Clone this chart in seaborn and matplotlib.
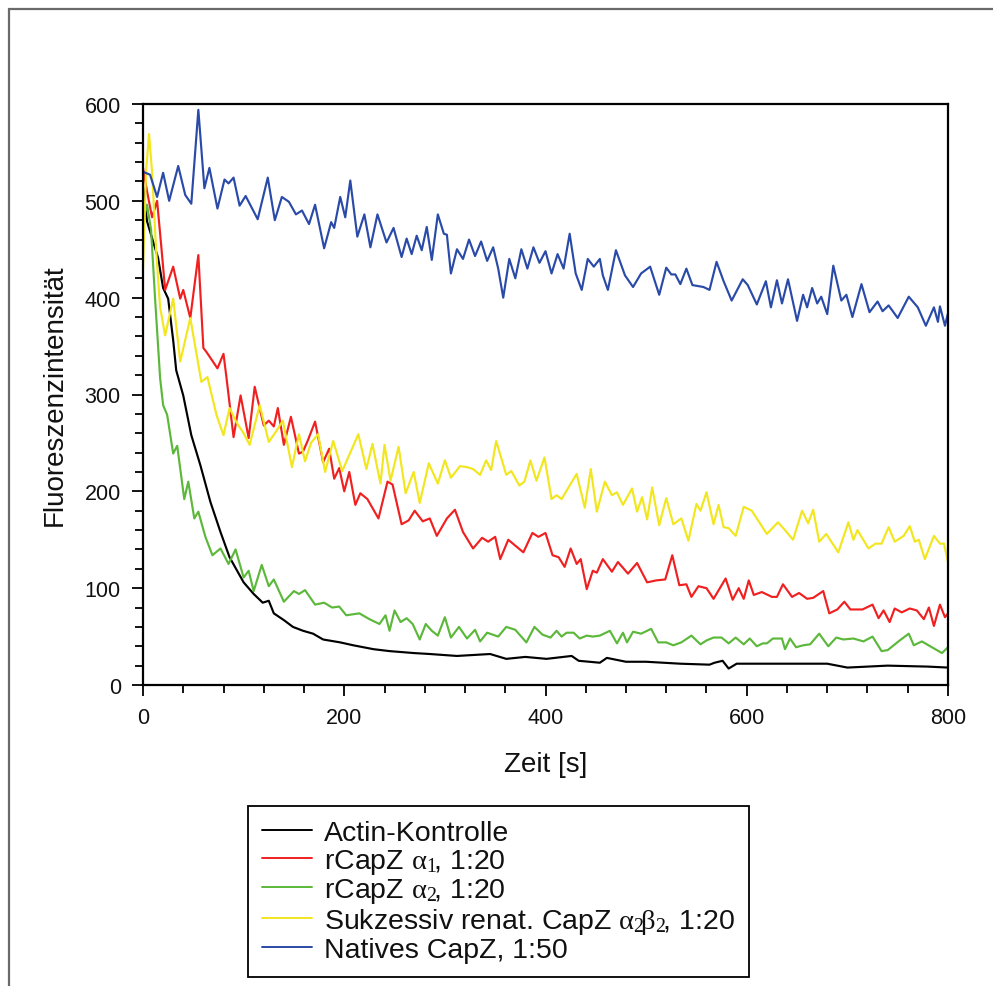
import matplotlib
matplotlib.use("Agg")
import matplotlib.pyplot as plt
from matplotlib.lines import Line2D
from matplotlib.ticker import MultipleLocator
import pandas as pd
import seaborn as sns

# ---- measured fluorescence traces (time in s, intensity in a.u.) ----
t_black = [0, 4, 10, 15, 20, 25, 30, 33, 40, 48, 57, 67, 77, 86, 100, 110, 119, 125, 130, 140,
           149, 159, 169, 179, 196, 209, 229, 245, 269, 285, 312, 345, 361, 380, 401, 426, 433,
           454, 461, 480, 500, 534, 563, 568, 576, 582, 590, 620, 680, 700, 740, 780, 800]
v_black = [515, 479, 458, 441, 410, 399, 356, 325, 299, 258, 227, 189, 158, 132, 106, 94, 85, 87, 74, 67,
           60, 56, 53, 47, 44, 41, 37, 35, 33, 32, 30, 32, 27, 29, 27, 30, 25,
           23, 28, 24, 24, 22, 21, 23, 25, 17, 22, 22, 22, 18, 20, 19, 18]

t_red = [0, 4, 9, 14, 18, 22, 30, 37, 40, 47, 55, 60, 63, 74, 80, 83, 90, 97, 105, 111, 120, 125, 130,
         134, 140, 147, 155, 159, 164, 171, 179, 185, 190, 195, 200, 205, 211, 216, 223, 234, 243, 248,
         257, 264, 270, 278, 285, 292, 302, 310, 318, 328, 337, 343, 350, 355, 363, 378, 387, 393, 400,
         407, 413, 419, 425, 431, 435, 441, 447, 451, 457, 466, 472, 482, 491, 501, 510, 519, 526, 533,
         540, 545, 552, 560, 567, 579, 586, 592, 597, 602, 607, 615, 625, 630, 636, 645, 652, 660, 666,
         676, 682, 690, 697, 703, 715, 725, 731, 736, 742, 747, 754, 762, 769, 776, 781, 786, 792, 797, 800]
v_red = [534, 510, 483, 500, 455, 408, 432, 399, 408, 379, 444, 348, 344, 327, 342, 317, 256, 299, 255, 308, 268, 273, 267,
         286, 248, 277, 239, 241, 253, 272, 230, 244, 213, 224, 200, 220, 186, 198, 192, 172, 210, 207,
         166, 170, 180, 169, 172, 154, 172, 181, 158, 141, 152, 148, 153, 130, 150, 137, 157, 153, 157,
         134, 132, 122, 141, 125, 130, 99, 118, 116, 130, 117, 127, 115, 126, 106, 108, 109, 134, 103,
         104, 91, 102, 100, 89, 110, 88, 100, 89, 108, 93, 96, 91, 91, 104, 91, 95, 89, 90,
         97, 74, 78, 86, 78, 78, 83, 69, 77, 65, 79, 75, 79, 77, 68, 80, 61, 83, 70, 74]

t_green = [0, 4, 8, 12, 17, 20, 24, 30, 34, 41, 45, 51, 55, 62, 69, 77, 85, 92, 100, 105, 110, 118, 125,
           130, 140, 150, 155, 161, 171, 180, 188, 195, 202, 215, 225, 235, 241, 245, 250, 256, 262, 268,
           275, 281, 287, 293, 300, 306, 314, 322, 330, 335, 342, 353, 361, 370, 381, 389, 397, 405, 411,
           416, 421, 428, 434, 441, 447, 454, 458, 464, 471, 477, 481, 487, 495, 505, 512, 520, 527, 535,
           545, 554, 560, 567, 575, 582, 589, 597, 603, 610, 616, 620, 626, 635, 638, 643, 649, 656, 663,
           672, 681, 689, 696, 706, 716, 725, 734, 740, 752, 761, 766, 774, 784, 794, 800]
v_green = [479, 496, 470, 399, 317, 289, 279, 239, 247, 192, 210, 172, 179, 153, 134, 141, 125, 140, 111, 118, 97, 124, 102,
           109, 86, 97, 94, 98, 83, 85, 80, 81, 72, 74, 68, 63, 72, 56, 77, 65, 69, 63,
           47, 63, 56, 51, 70, 49, 60, 48, 57, 45, 54, 50, 60, 57, 44, 60, 52, 49, 56,
           50, 54, 54, 48, 51, 50, 51, 53, 56, 43, 54, 44, 55, 53, 58, 44, 44, 41, 44,
           51, 42, 46, 49, 49, 43, 49, 42, 48, 40, 43, 43, 48, 48, 37, 48, 39, 41, 42,
           53, 40, 49, 47, 48, 45, 50, 35, 36, 46, 53, 41, 45, 39, 33, 39]

t_yellow = [0, 3, 6, 9, 13, 17, 22, 30, 37, 47, 58, 64, 73, 80, 86, 93, 100, 106, 116, 125, 133, 139,
            148, 155, 161, 167, 174, 181, 189, 198, 206, 214, 222, 228, 236, 240, 246, 254, 261, 269, 275,
            284, 293, 300, 306, 315, 322, 328, 335, 341, 346, 351, 361, 366, 374, 379, 385, 391, 399, 406,
            411, 416, 424, 431, 439, 445, 451, 459, 466, 471, 477, 486, 491, 496, 501, 506, 513, 520, 527,
            535, 542, 550, 554, 560, 567, 572, 577, 582, 589, 597, 605, 620, 631, 638, 646, 655, 661, 666,
            672, 679, 691, 701, 706, 710, 721, 728, 734, 741, 747, 756, 762, 767, 771, 777, 786, 792, 796, 800]
v_yellow = [429, 530, 569, 530, 450, 390, 361, 399, 334, 379, 313, 318, 279, 258, 286, 271, 260, 248, 289, 251, 263, 273,
            225, 259, 231, 250, 259, 220, 252, 221, 240, 259, 223, 249, 208, 248, 211, 246, 198, 220, 188,
            229, 208, 232, 214, 226, 225, 223, 217, 232, 222, 252, 217, 221, 206, 210, 232, 211, 235, 192,
            196, 192, 206, 218, 183, 223, 179, 210, 196, 199, 186, 203, 179, 194, 171, 204, 165, 193, 166,
            172, 149, 187, 180, 199, 166, 186, 163, 162, 154, 184, 180, 156, 168, 160, 150, 180, 167, 181,
            148, 156, 137, 168, 150, 160, 141, 146, 146, 163, 148, 154, 164, 148, 150, 130, 154, 146, 146, 127]

t_blue = [0, 7, 14, 20, 26, 35, 42, 48, 55, 61, 66, 74, 81, 85, 90, 96, 102, 114, 124, 131, 138, 145,
          152, 158, 165, 171, 180, 187, 190, 196, 201, 206, 213, 220, 226, 233, 242, 249, 257, 262, 267,
          272, 277, 282, 287, 293, 299, 302, 306, 312, 318, 324, 330, 336, 342, 348, 353, 358, 364, 370,
          376, 382, 388, 394, 400, 406, 412, 418, 424, 430, 436, 442, 448, 454, 457, 462, 470, 479, 487,
          495, 504, 513, 520, 525, 529, 534, 540, 546, 557, 563, 570, 577, 585, 596, 601, 610, 619, 624,
          630, 635, 641, 650, 656, 660, 665, 670, 674, 680, 686, 694, 699, 705, 714, 722, 730, 735, 741,
          750, 761, 770, 778, 786, 790, 792, 797, 800]
v_blue = [530, 527, 504, 529, 500, 536, 506, 497, 594, 513, 534, 492, 522, 518, 524, 495, 505, 481, 524, 480, 504, 499,
          486, 490, 476, 496, 451, 478, 472, 504, 483, 521, 463, 486, 452, 486, 457, 472, 442, 461, 445,
          464, 449, 473, 439, 486, 466, 465, 425, 450, 440, 460, 443, 458, 438, 452, 430, 400, 440, 420,
          450, 430, 452, 436, 448, 425, 445, 430, 466, 425, 408, 440, 432, 440, 423, 408, 449, 423, 411,
          425, 432, 403, 431, 424, 424, 414, 430, 413, 411, 408, 437, 417, 397, 419, 413, 393, 417, 390,
          418, 394, 419, 376, 403, 390, 410, 394, 401, 383, 433, 397, 403, 380, 414, 385, 396, 386, 392,
          379, 401, 390, 371, 390, 375, 391, 371, 384]

series_labels = [
    "Actin-Kontrolle",
    r"rCapZ $\mathrm{\alpha}_1\!$, 1:20",
    r"rCapZ $\mathrm{\alpha}_2\!$, 1:20",
    r"Sukzessiv renat. CapZ $\mathrm{\alpha}_2\!\mathrm{\beta}_2\!$, 1:20",
    "Natives CapZ, 1:50",
]
series_colors = ["#000000", "#f02020", "#5cb83a", "#f2e61e", "#2a4aa8"]

x_ticks = [0, 200, 400, 600, 800]
y_ticks = [0, 100, 200, 300, 400, 500, 600]

frames = []
for lab, tt, vv in zip(series_labels,
                       [t_black, t_red, t_green, t_yellow, t_blue],
                       [v_black, v_red, v_green, v_yellow, v_blue]):
    frames.append(pd.DataFrame({"t": tt, "v": vv, "series": lab}))
df = pd.concat(frames, ignore_index=True)

sns.set_theme(style="white")
plt.rcParams["font.family"] = ["Liberation Sans", "DejaVu Sans"]
plt.rcParams["mathtext.fontset"] = "custom"
plt.rcParams["mathtext.rm"] = "Liberation Serif"
plt.rcParams["mathtext.it"] = "Liberation Serif:italic"
plt.rcParams["mathtext.bf"] = "Liberation Serif:bold"
plt.rcParams["xtick.labelsize"] = 15.5
plt.rcParams["ytick.labelsize"] = 15.5

TICK_FS = 15.5
W, H = 993, 987
fig = plt.figure(figsize=(W / 100, H / 100), dpi=100)
fig.patch.set_facecolor("white")
ax = fig.add_axes([143 / W, 1 - 686 / H, 805 / W, 581 / H])

sns.lineplot(data=df, x="t", y="v", hue="series", hue_order=series_labels,
             palette=series_colors, estimator=None, sort=False, linewidth=1.55,
             legend=False, ax=ax)
for ln in ax.get_lines():
    ln.set_solid_joinstyle("round")
    ln.set_solid_capstyle("round")

ax.set_xlim(0, 800)
ax.set_ylim(0, 600)
ax.set_xticks(x_ticks)
ax.set_yticks(y_ticks)
ax.xaxis.set_minor_locator(MultipleLocator(40))
ax.yaxis.set_minor_locator(MultipleLocator(20))
for s in ax.spines.values():
    s.set_color("black")
    s.set_linewidth(1.6)
ax.tick_params(which="both", direction="out", left=True, bottom=True, top=False, right=False,
               color="black", width=1.3)
ax.tick_params(which="major", length=8, pad=8)
ax.tick_params(which="minor", length=6)
ax.tick_params(axis="both", which="major", labelsize=TICK_FS, labelcolor="#111111")
ax.grid(False)

ax.set_xlabel("Zeit [s]", fontsize=20, color="#111111")
ax.set_ylabel("Fluoreszenzintensität", fontsize=20, color="#111111")
ax.xaxis.set_label_coords(0.5, -(752 - 686) / 581)
ax.yaxis.set_label_coords((68 - 143) / 805, 0.5)

handles = [Line2D([], [], color=c, lw=1.4) for c in series_colors]
leg = fig.legend(handles, series_labels, loc="upper left",
                 bbox_to_anchor=(248 / W, 1 - 807 / H), fontsize=20.5,
                 frameon=True, fancybox=False, shadow=False, framealpha=1,
                 edgecolor="black", borderpad=0.5, labelspacing=0.02,
                 handlelength=1.75, handletextpad=0.42, borderaxespad=0)
leg.get_frame().set_linewidth(1.3)
for txt in leg.get_texts():
    txt.set_color("#111111")

# thin grey border at the top and left of the figure
fig.add_artist(Line2D([9 / W, 9 / W], [0, 1 - 10 / H], transform=fig.transFigure,
                      color="#6a6a6a", lw=1.6))
fig.add_artist(Line2D([9 / W, 1], [1 - 10 / H, 1 - 10 / H], transform=fig.transFigure,
                      color="#6a6a6a", lw=1.6))

fig.savefig("out.png", dpi=100, facecolor="white")
